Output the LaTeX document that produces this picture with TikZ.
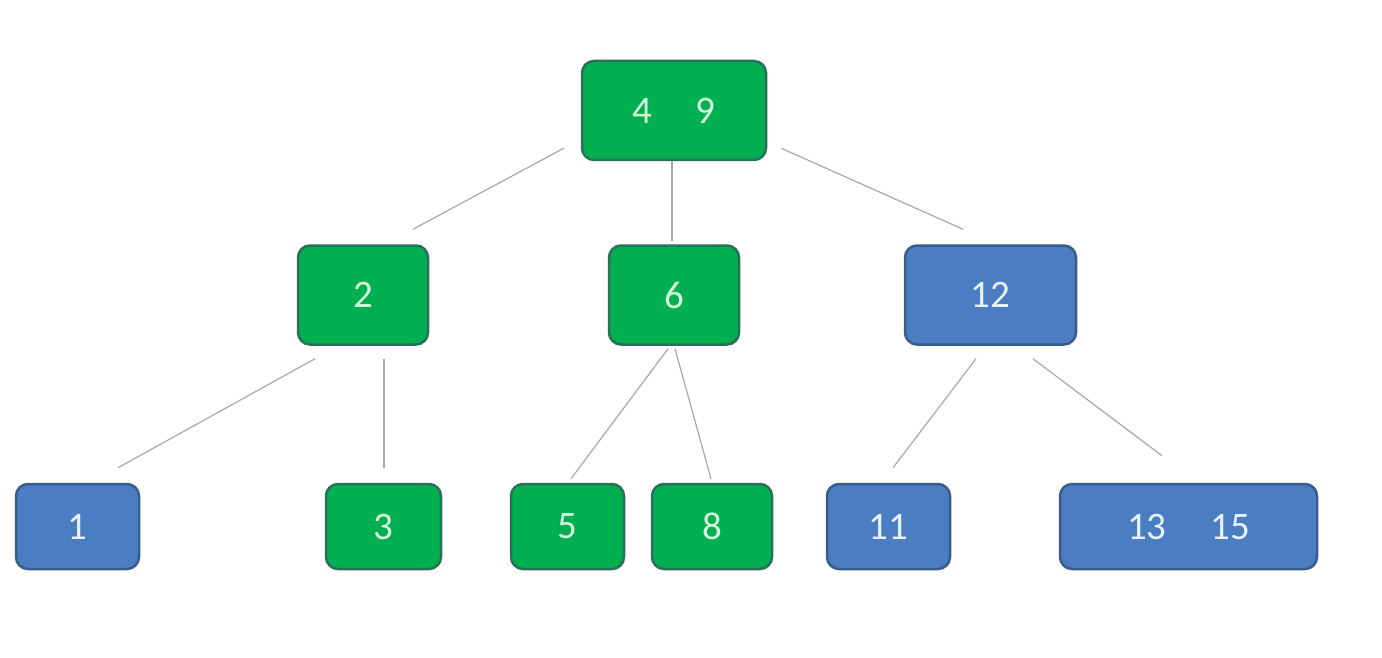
\documentclass[tikz,border=0pt]{standalone}
\usepackage{fontspec}
\setmainfont{Carlito}
\newcommand{\keygap}{\hspace{1.12em}}
\begin{document}
\begin{tikzpicture}[x=1pt,y=-1pt,
  keybox/.style={rounded corners=12pt, line width=2.5pt, inner sep=0pt,
    minimum height=#1, font=\fontsize{39}{46}\selectfont},
  greenbox/.style={keybox=99pt, fill=nodegreen, draw=greenedge, text=greentext},
  bluebox/.style={keybox=99pt, fill=nodeblue, draw=blueedge, text=bluetext},
  leafgreen/.style={keybox=85pt, fill=nodegreen, draw=greenedge, text=greentext},
  leafblue/.style={keybox=85pt, fill=nodeblue, draw=blueedge, text=bluetext},
  link/.style={draw=linkgray, line width=1.2pt}]
\definecolor{nodegreen}{HTML}{00B050}
\definecolor{greenedge}{HTML}{2A6E5C}
\definecolor{greentext}{HTML}{D6F5DD}
\definecolor{nodeblue}{HTML}{4A7DC2}
\definecolor{blueedge}{HTML}{385D8A}
\definecolor{bluetext}{HTML}{E6F1FA}
\definecolor{linkgray}{HTML}{A8A8A8}
\useasboundingbox[fill=white] (0,0) rectangle (1382,658);

% root
\node[greenbox, minimum width=184pt] (r) at (674,110.5) {4\keygap 9};
% second level
\node[greenbox, minimum width=130pt] (n2) at (363,295) {2};
\node[greenbox, minimum width=130pt] (n6) at (674,295) {6};
\node[bluebox, minimum width=171pt] (n12) at (990.5,295) {12};
% leaves
\node[leafblue, minimum width=123pt] (n1) at (77.5,526.5) {1};
\node[leafgreen, minimum width=115pt] (n3) at (383.5,526.5) {3};
\node[leafgreen, minimum width=113pt] (n5) at (567.5,526.5) {5};
\node[leafgreen, minimum width=120pt] (n8) at (712,526.5) {8};
\node[leafblue, minimum width=123pt] (n11) at (888.5,526.5) {11};
\node[leafblue, minimum width=257pt] (n13) at (1188.5,526.5) {13\keygap 15};

% connectors
\draw[link] ([shift={(-17pt,13pt)}]r.south west) -- ([shift={(50pt,15pt)}]n2.north);
\draw[link] ([shift={(-2pt,0pt)}]r.south) -- ([shift={(-2pt,3pt)}]n6.north);
\draw[link] ([shift={(14pt,13pt)}]r.south east) -- ([shift={(-27.5pt,15pt)}]n12.north);
\draw[link] ([shift={(-48pt,-13pt)}]n2.south) -- ([shift={(40.5pt,15pt)}]n1.north);
\draw[link] ([shift={(21pt,-13pt)}]n2.south) -- ([shift={(0.5pt,15pt)}]n3.north);
\draw[link] ([shift={(-6pt,-3pt)}]n6.south) -- ([shift={(3.5pt,4pt)}]n5.north);
\draw[link] ([shift={(1pt,-3pt)}]n6.south) -- ([shift={(-1pt,4pt)}]n8.north);
\draw[link] ([shift={(-14.5pt,-13pt)}]n12.south) -- ([shift={(4.5pt,15pt)}]n11.north);
\draw[link] ([shift={(42.5pt,-13pt)}]n12.south) -- ([shift={(-26.5pt,27pt)}]n13.north);
\end{tikzpicture}
\end{document}
